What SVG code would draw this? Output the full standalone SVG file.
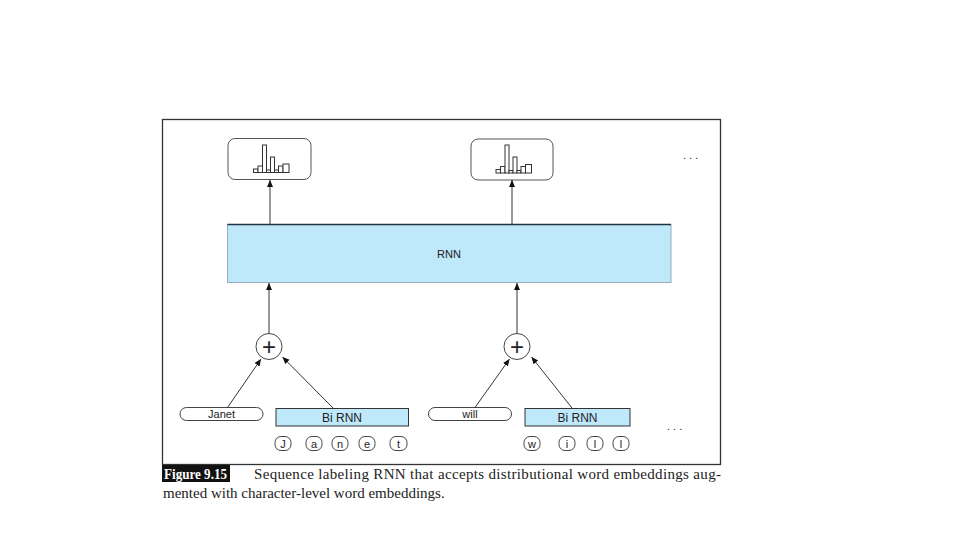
<svg xmlns="http://www.w3.org/2000/svg" width="960" height="540" viewBox="0 0 960 540">
<style>
.lbl{font-family:"Liberation Sans",Arial,sans-serif;fill:#222}
.cap{font-family:"Liberation Serif","Times New Roman",serif;font-size:15px;fill:#222}
.out{fill:#fff;stroke:#555;stroke-width:1}
.bar{fill:#fff;stroke:#333;stroke-width:1}
.blue{fill:#bfe8fb;stroke:#333;stroke-width:1}
.pill{fill:#fff;stroke:#444;stroke-width:1}
.conn{stroke:#333;stroke-width:1;fill:none;marker-end:url(#ah)}
</style>
<defs>
<marker id="ah" markerWidth="8" markerHeight="8" refX="7" refY="4" orient="auto" markerUnits="userSpaceOnUse">
<path d="M0,1 L7,4 L0,7 Z" fill="#111"/>
</marker>
</defs>
<rect x="0" y="0" width="960" height="540" fill="#fff"/>
<rect x="162.5" y="119.5" width="558" height="345" fill="none" stroke="#333" stroke-width="1.3"/>

<g id="out1">
<rect class="out" x="228" y="138.5" width="83" height="41" rx="7"/>
<rect class="bar" x="253.5" y="169" width="4.5" height="3.5"/>
<rect class="bar" x="258" y="166" width="4.5" height="6.5"/>
<rect class="bar" x="262.5" y="145" width="4" height="27.5"/>
<rect class="bar" x="266.5" y="170" width="4" height="2.5"/>
<rect class="bar" x="270.5" y="157" width="4" height="15.5"/>
<rect class="bar" x="274.5" y="170" width="4" height="2.5"/>
<rect class="bar" x="278.5" y="166" width="4.5" height="6.5"/>
<rect class="bar" x="283" y="164" width="6" height="8.5"/>
</g>
<g id="out2">
<rect class="out" x="471" y="139" width="82" height="41" rx="7"/>
<rect class="bar" x="496" y="169.5" width="4.5" height="3.5"/>
<rect class="bar" x="500.5" y="166.5" width="4.5" height="6.5"/>
<rect class="bar" x="505" y="145" width="4" height="28"/>
<rect class="bar" x="509" y="170.5" width="4" height="2.5"/>
<rect class="bar" x="513" y="157" width="4" height="16"/>
<rect class="bar" x="517" y="170.5" width="4" height="2.5"/>
<rect class="bar" x="521" y="166.5" width="4.5" height="6.5"/>
<rect class="bar" x="525.5" y="164.5" width="6" height="8.5"/>
</g>
<g id="dots-top"><text class="lbl" x="683" y="159" font-size="11" fill="#555">. . .</text></g>

<g id="rnn">
<rect x="227.5" y="224.5" width="443.5" height="58" fill="#bfe8fb" stroke="#9ab" stroke-width="1"/>
<line x1="227.5" y1="224.5" x2="671" y2="224.5" stroke="#234" stroke-width="1.3"/>
<text class="lbl" x="449" y="258" font-size="11" text-anchor="middle">RNN</text>
</g>

<g id="plus1">
<circle cx="269" cy="346.5" r="13" fill="#fff" stroke="#444" stroke-width="1"/>
<text class="lbl" x="269" y="355" font-size="24" text-anchor="middle">+</text>
</g>
<g id="plus2">
<circle cx="517" cy="346.5" r="13" fill="#fff" stroke="#444" stroke-width="1"/>
<text class="lbl" x="517" y="355" font-size="24" text-anchor="middle">+</text>
</g>

<g id="janet">
<rect class="pill" x="180" y="407.5" width="83" height="13" rx="6.5"/>
<text class="lbl" x="221.5" y="418" font-size="11" text-anchor="middle">Janet</text>
</g>
<g id="birnn1">
<rect class="blue" x="276" y="408.5" width="132.5" height="17.5"/>
<text class="lbl" x="342" y="421.5" font-size="12" text-anchor="middle">Bi RNN</text>
</g>
<g id="chars1">
<rect class="pill" x="275" y="436.5" width="16" height="14" rx="6"/><text class="lbl" x="283" y="447.5" font-size="11" text-anchor="middle">J</text>
<rect class="pill" x="306" y="436.5" width="16" height="14" rx="6"/><text class="lbl" x="314" y="447.5" font-size="11" text-anchor="middle">a</text>
<rect class="pill" x="332" y="436.5" width="16" height="14" rx="6"/><text class="lbl" x="340" y="447.5" font-size="11" text-anchor="middle">n</text>
<rect class="pill" x="359" y="436.5" width="16" height="14" rx="6"/><text class="lbl" x="367" y="447.5" font-size="11" text-anchor="middle">e</text>
<rect class="pill" x="390" y="436.5" width="17" height="14" rx="6"/><text class="lbl" x="398.5" y="447.5" font-size="11" text-anchor="middle">t</text>
</g>

<g id="will">
<rect class="pill" x="428.5" y="407.5" width="83" height="13" rx="6.5"/>
<text class="lbl" x="470" y="418" font-size="11" text-anchor="middle">will</text>
</g>
<g id="birnn2">
<rect class="blue" x="525" y="408.5" width="105" height="17.5"/>
<text class="lbl" x="577.5" y="421.5" font-size="12" text-anchor="middle">Bi RNN</text>
</g>
<g id="chars2">
<rect class="pill" x="524" y="436.5" width="16" height="14" rx="6"/><text class="lbl" x="532" y="447.5" font-size="11" text-anchor="middle">w</text>
<rect class="pill" x="559" y="436.5" width="16" height="14" rx="6"/><text class="lbl" x="567" y="447.5" font-size="11" text-anchor="middle">i</text>
<rect class="pill" x="587" y="436.5" width="16" height="14" rx="6"/><text class="lbl" x="595" y="447.5" font-size="11" text-anchor="middle">l</text>
<rect class="pill" x="613" y="436.5" width="16" height="14" rx="6"/><text class="lbl" x="621" y="447.5" font-size="11" text-anchor="middle">l</text>
</g>
<g id="dots-bottom"><text class="lbl" x="667" y="430" font-size="11" fill="#555">. . .</text></g>

<g id="connectors">
<line class="conn" x1="270" y1="224" x2="270" y2="180"/>
<line class="conn" x1="512" y1="224" x2="512" y2="180"/>
<line class="conn" x1="269" y1="333.5" x2="269" y2="283"/>
<line class="conn" x1="517" y1="333.5" x2="517" y2="283"/>
<line class="conn" x1="227.5" y1="407.5" x2="261" y2="359"/>
<line class="conn" x1="333" y1="408" x2="282.5" y2="357"/>
<line class="conn" x1="475" y1="407.5" x2="509.5" y2="359"/>
<line class="conn" x1="572" y1="408" x2="531.5" y2="357"/>
</g>

<g id="caption">
<rect x="162" y="465" width="68" height="17" fill="#111"/>
<text x="164" y="479" font-family="'Liberation Serif','Times New Roman',serif" font-size="15" font-weight="bold" fill="#fff" textLength="63" lengthAdjust="spacingAndGlyphs">Figure 9.15</text>
<text class="cap" x="254" y="479" textLength="467" lengthAdjust="spacing">Sequence labeling RNN that accepts distributional word embeddings aug-</text>
<text class="cap" x="163" y="498">mented with character-level word embeddings.</text>
</g>
</svg>
